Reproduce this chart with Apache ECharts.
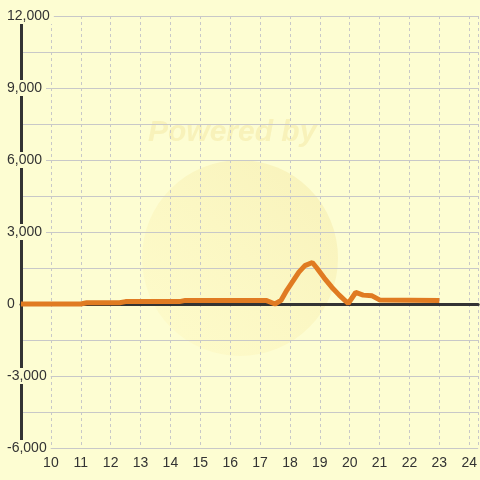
<!DOCTYPE html>
<html><head><meta charset="utf-8">
<script src="https://cdn.jsdelivr.net/npm/echarts@6/dist/echarts.min.js"></script>
<style>html,body{margin:0;padding:0;background:#fdfdd2}#c{width:480px;height:480px}</style>
</head><body><div id="c"></div>
<script>
// x positions (hour-like values) and series values
const xValues = [9, 11, 11.2, 12.3, 12.5, 14.3, 14.5, 17.2, 17.5, 17.7, 17.9, 18.1, 18.3, 18.5, 18.75, 18.9, 19.15, 19.4, 19.65, 19.95, 20.2, 20.45, 20.75, 21, 23];
const yValues = [0, 0, 50, 50, 100, 100, 150, 150, 0, 150, 580, 950, 1330, 1600, 1730, 1500, 1080, 700, 370, 20, 480, 370, 340, 170, 150];
const xMin = 9, xMax = 24.3, xStep = 1;
const yMin = -6000, yMax = 12000, yStep = 1500, yLabelStep = 3000;
const watermarkText = 'Powered by';

const bg = '#fdfdd2';
const chart = echarts.init(document.getElementById('c'));
const fmt = v => v.toLocaleString('en-US');
chart.setOption({
  backgroundColor: bg,
  animation: false,
  grid: {left: 21, right: 0, top: 16, bottom: 32, containLabel: false},
  graphic: [
    {type: 'circle', shape: {cx: 240, cy: 258, r: 98}, z: -10, silent: true,
     style: {fill: new echarts.graphic.LinearGradient(0, 1, 1, 0, [
       {offset: 0, color: 'rgba(255,245,180,0.25)'},
       {offset: 1, color: 'rgba(240,225,150,0.40)'}])}},
    {type: 'text', x: 148, y: 118, z: -10, silent: true,
     style: {text: watermarkText, font: 'italic bold 30px "Liberation Sans", Arial, sans-serif', fill: 'rgba(240,225,150,0.40)'}}
  ],
  xAxis: [{
    type: 'value', min: xMin, max: xMax, interval: xStep,
    axisLine: {show: false, onZero: false}, axisTick: {show: false},
    axisLabel: {show: true, showMinLabel: false, showMaxLabel: false, color: '#333', fontSize: 14, margin: 8,
      fontFamily: '"Liberation Sans", Arial, sans-serif'},
    splitLine: {show: true, lineStyle: {color: '#c8c8c8', type: [3, 3], width: 1}}
  }, {
    type: 'value', min: xMin, max: xMax, interval: xStep, position: 'bottom',
    axisLine: {show: true, onZero: true, lineStyle: {color: '#333', width: 3}},
    axisTick: {show: false}, axisLabel: {show: false}, splitLine: {show: false}
  }],
  yAxis: {
    type: 'value', min: yMin, max: yMax, interval: yStep,
    axisLine: {show: true, onZero: false, lineStyle: {color: '#333', width: 3}},
    axisTick: {show: false},
    axisLabel: {
      color: '#333', fontSize: 14, fontFamily: '"Liberation Sans", Arial, sans-serif',
      align: 'left', margin: 14, backgroundColor: bg, padding: [1, 4, 1, 0],
      formatter: v => (v % yLabelStep === 0 ? fmt(v) : '')
    },
    splitLine: {show: true, lineStyle: {color: '#c8c8c8', width: 1}}
  },
  series: [{
    type: 'line', xAxisIndex: 0,
    data: xValues.map((x, i) => [x, yValues[i]]),
    showSymbol: false, symbol: 'none',
    lineStyle: {color: '#e07b22', width: 5},
    itemStyle: {color: '#e07b22'}, z: 5
  }]
});
</script></body></html>
